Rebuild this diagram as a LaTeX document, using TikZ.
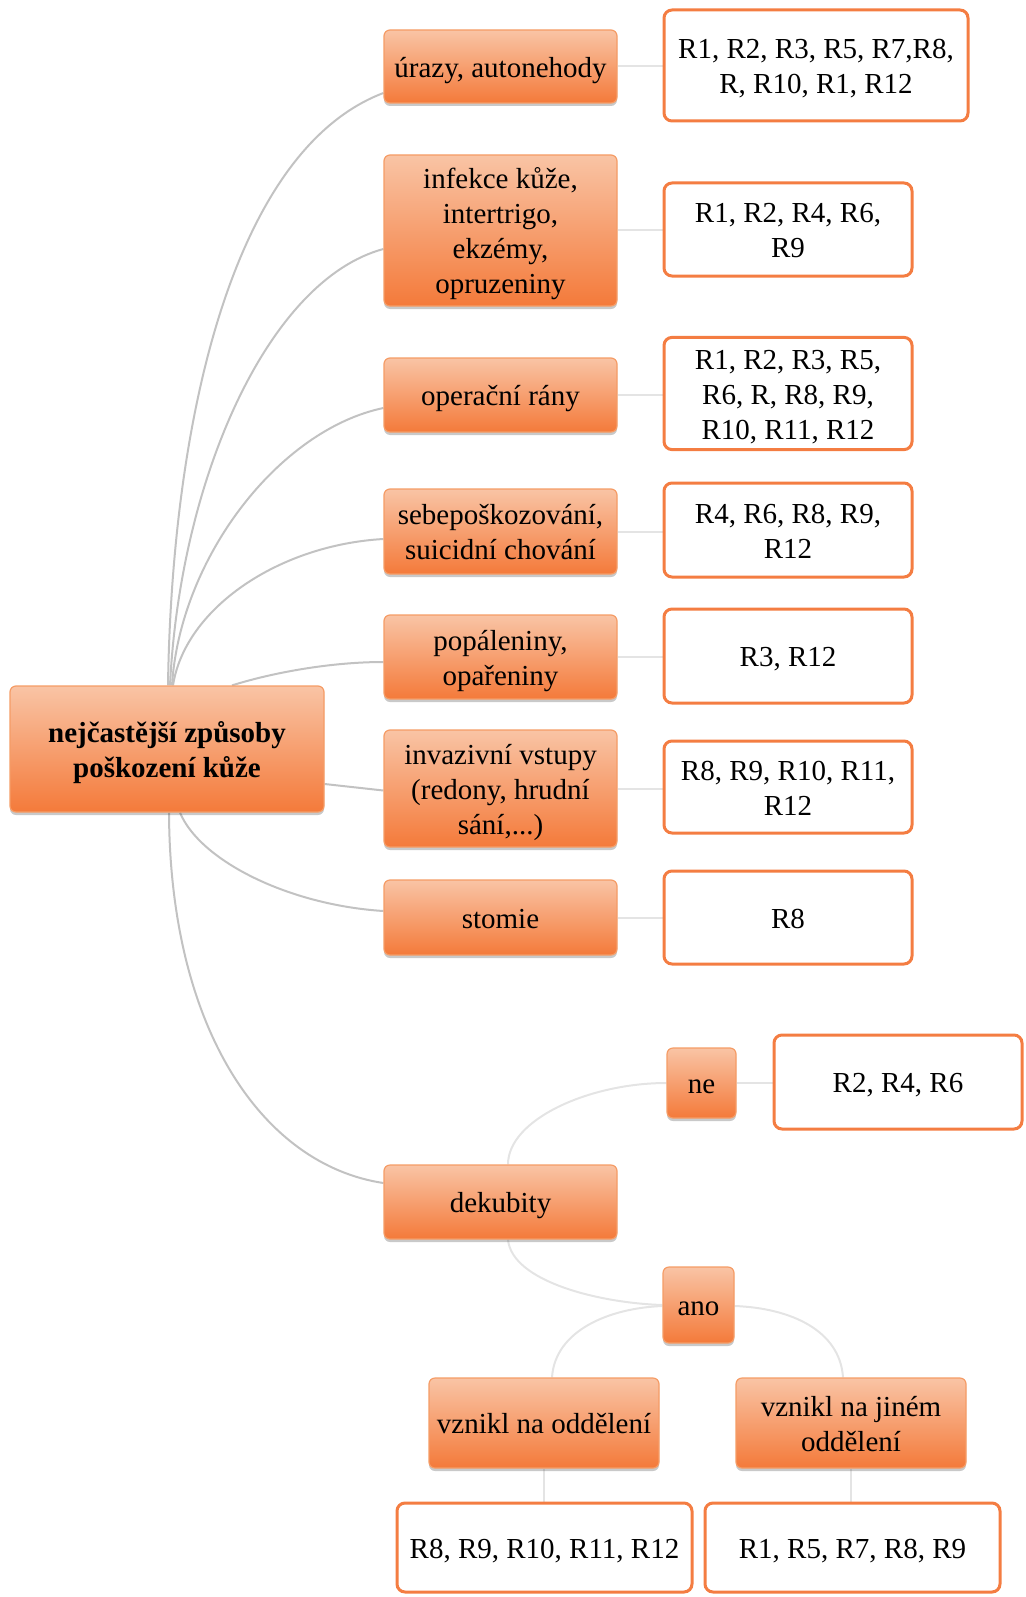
\documentclass[tikz,border=0pt]{standalone}
\usepackage{fontspec}
\setmainfont{Liberation Serif}
\usetikzlibrary{shadows,backgrounds,calc}
\definecolor{otop}{HTML}{F9C4A5}
\definecolor{obot}{HTML}{F47A3A}
\definecolor{oline}{HTML}{F59C66}
\definecolor{wline}{HTML}{F47D42}
\definecolor{mainc}{HTML}{C2C2C2}
\definecolor{lightc}{HTML}{E4E4E4}
\newcommand{\ctext}[1]{\raisebox{0pt}[\dimexpr\height+7.2pt\relax][\depth]{\begin{tabular}{@{}c@{}}#1\end{tabular}}}
\begin{document}
\begin{tikzpicture}[x=1pt,y=1pt,
  obox/.style={rectangle, rounded corners=6pt, top color=otop, bottom color=obot,
    draw=oline, line width=1.2pt, inner sep=0pt,
    font=\fontsize{29}{35}\selectfont,
    drop shadow={shadow xshift=0pt, shadow yshift=-3pt, opacity=0.3, fill=black!70}},
  wbox/.style={rectangle, rounded corners=8pt, fill=white, draw=wline, line width=3pt,
    inner sep=0pt, font=\fontsize{29}{35}\selectfont},
  mainline/.style={draw=mainc, line width=2pt},
  subline/.style={draw=lightc, line width=2pt}]
\useasboundingbox (0,0) rectangle (1025,-1597);

% root
\node[obox, minimum width=314pt, minimum height=126pt,
  font=\bfseries\fontsize{29}{35}\selectfont] (root) at (167,-749)
  {\ctext{nejčastější způsoby\\poškození kůže}};

% first level
\node[obox, minimum width=233pt, minimum height=73pt] (ura) at (500.5,-66.5) {\ctext{úrazy, autonehody}};
\node[obox, minimum width=233pt, minimum height=151pt] (inf) at (500.5,-230.5) {\ctext{infekce kůže,\\intertrigo,\\ekzémy,\\opruzeniny}};
\node[obox, minimum width=233pt, minimum height=74pt] (ope) at (500.5,-395) {\ctext{operační rány}};
\node[obox, minimum width=233pt, minimum height=85pt] (seb) at (500.5,-531.5) {\ctext{sebepoškozování,\\suicidní chování}};
\node[obox, minimum width=233pt, minimum height=84pt] (pop) at (500.5,-657) {\ctext{popáleniny,\\opařeniny}};
\node[obox, minimum width=233pt, minimum height=117pt] (inv) at (500.5,-788.5) {\ctext{invazivní vstupy\\(redony, hrudní\\sání,...)}};
\node[obox, minimum width=233pt, minimum height=75pt] (sto) at (500.5,-917.5) {\ctext{stomie}};
\node[obox, minimum width=233pt, minimum height=74pt] (dek) at (500.5,-1202) {\ctext{dekubity}};

% result boxes
\node[wbox, minimum width=304pt, minimum height=111pt] (rura) at (816,-65.5) {\ctext{R1, R2, R3, R5, R7,R8,\\R, R10, R1, R12}};
\node[wbox, minimum width=248pt, minimum height=93pt] (rinf) at (788,-229.5) {\ctext{R1, R2, R4, R6,\\R9}};
\node[wbox, minimum width=248pt, minimum height=111pt] (rope) at (788,-393.5) {\ctext{R1, R2, R3, R5,\\R6, R, R8, R9,\\R10, R11, R12}};
\node[wbox, minimum width=248pt, minimum height=94pt] (rseb) at (788,-530) {\ctext{R4, R6, R8, R9,\\R12}};
\node[wbox, minimum width=248pt, minimum height=94pt] (rpop) at (788,-656) {\ctext{R3, R12}};
\node[wbox, minimum width=248pt, minimum height=92pt] (rinv) at (788,-787) {\ctext{R8, R9, R10, R11,\\R12}};
\node[wbox, minimum width=248pt, minimum height=93pt] (rsto) at (788,-917.5) {\ctext{R8}};

% dekubity subtree
\node[obox, minimum width=69pt, minimum height=70pt] (ne) at (701.5,-1083) {\ctext{ne}};
\node[wbox, minimum width=248pt, minimum height=94pt] (rne) at (898,-1082) {\ctext{R2, R4, R6}};
\node[obox, minimum width=71pt, minimum height=76pt] (ano) at (698.5,-1305) {\ctext{ano}};
\node[obox, minimum width=230pt, minimum height=90pt] (vo) at (544,-1423) {\ctext{vznikl na oddělení}};
\node[obox, minimum width=230pt, minimum height=90pt] (vj) at (851,-1423) {\ctext{vznikl na jiném\\oddělení}};
\node[wbox, minimum width=295pt, minimum height=89pt] (rvo) at (544.5,-1547.5) {\ctext{R8, R9, R10, R11, R12}};
\node[wbox, minimum width=295pt, minimum height=89pt] (rvj) at (852.5,-1547.5) {\ctext{R1, R5, R7, R8, R9}};

\begin{pgfonlayer}{background}
% root connectors
\draw[mainline] ([xshift=1pt]root.north) .. controls +(4,267) and +(-150,-57) .. ([yshift=-26.5pt]ura.west);
\draw[mainline] ([xshift=3pt]root.north) .. controls +(10,207) and +(-115,-31) .. ([yshift=-18.5pt]inf.west);
\draw[mainline] ([xshift=5pt]root.north) .. controls +(8,127) and +(-105,-22) .. ([yshift=-13pt]ope.west);
\draw[mainline] ([xshift=6pt]root.north) .. controls +(12,77) and +(-105,-6) .. ([yshift=-7.5pt]seb.west);
\draw[mainline] ([xshift=65pt]root.north) .. controls +(38,12) and +(-55,0) .. ([yshift=-5pt]pop.west);
\draw[mainline] ([yshift=-35pt]root.east) -- ([yshift=-2pt]inv.west);
\draw[mainline] ([xshift=13pt]root.south) .. controls +(20,-48) and +(-95,6) .. ([yshift=6.5pt]sto.west);
\draw[mainline] ([xshift=2pt]root.south) .. controls +(1,-218) and +(-120,18) .. ([yshift=19pt]dek.west);
% to results
\draw[subline] (ura.east) -- (ura.east -| rura.west);
\draw[subline] (inf.east) -- (inf.east -| rinf.west);
\draw[subline] (ope.east) -- (ope.east -| rope.west);
\draw[subline] (seb.east) -- (seb.east -| rseb.west);
\draw[subline] (pop.east) -- (pop.east -| rpop.west);
\draw[subline] (inv.east) -- (inv.east -| rinv.west);
\draw[subline] (sto.east) -- (sto.east -| rsto.west);
\draw[subline] (ne.east) -- (ne.east -| rne.west);
% dekubity subtree
\draw[subline] ([xshift=7.5pt]dek.north) .. controls +(0,45) and +(-77,0) .. (ne.west);
\draw[subline] ([xshift=7.5pt]dek.south) .. controls +(4,-42) and +(-63,2) .. (ano.west);
\draw[subline] ([yshift=-1pt]ano.west) .. controls +(-53,-2) and +(3,47) .. ([xshift=8pt]vo.north);
\draw[subline] ([yshift=-1pt]ano.east) .. controls +(56,-2) and +(-3,47) .. ([xshift=-8pt]vj.north);
\draw[subline] (vo.south) -- (vo.south |- rvo.north);
\draw[subline] (vj.south) -- (vj.south |- rvj.north);
\end{pgfonlayer}
\end{tikzpicture}
\end{document}
